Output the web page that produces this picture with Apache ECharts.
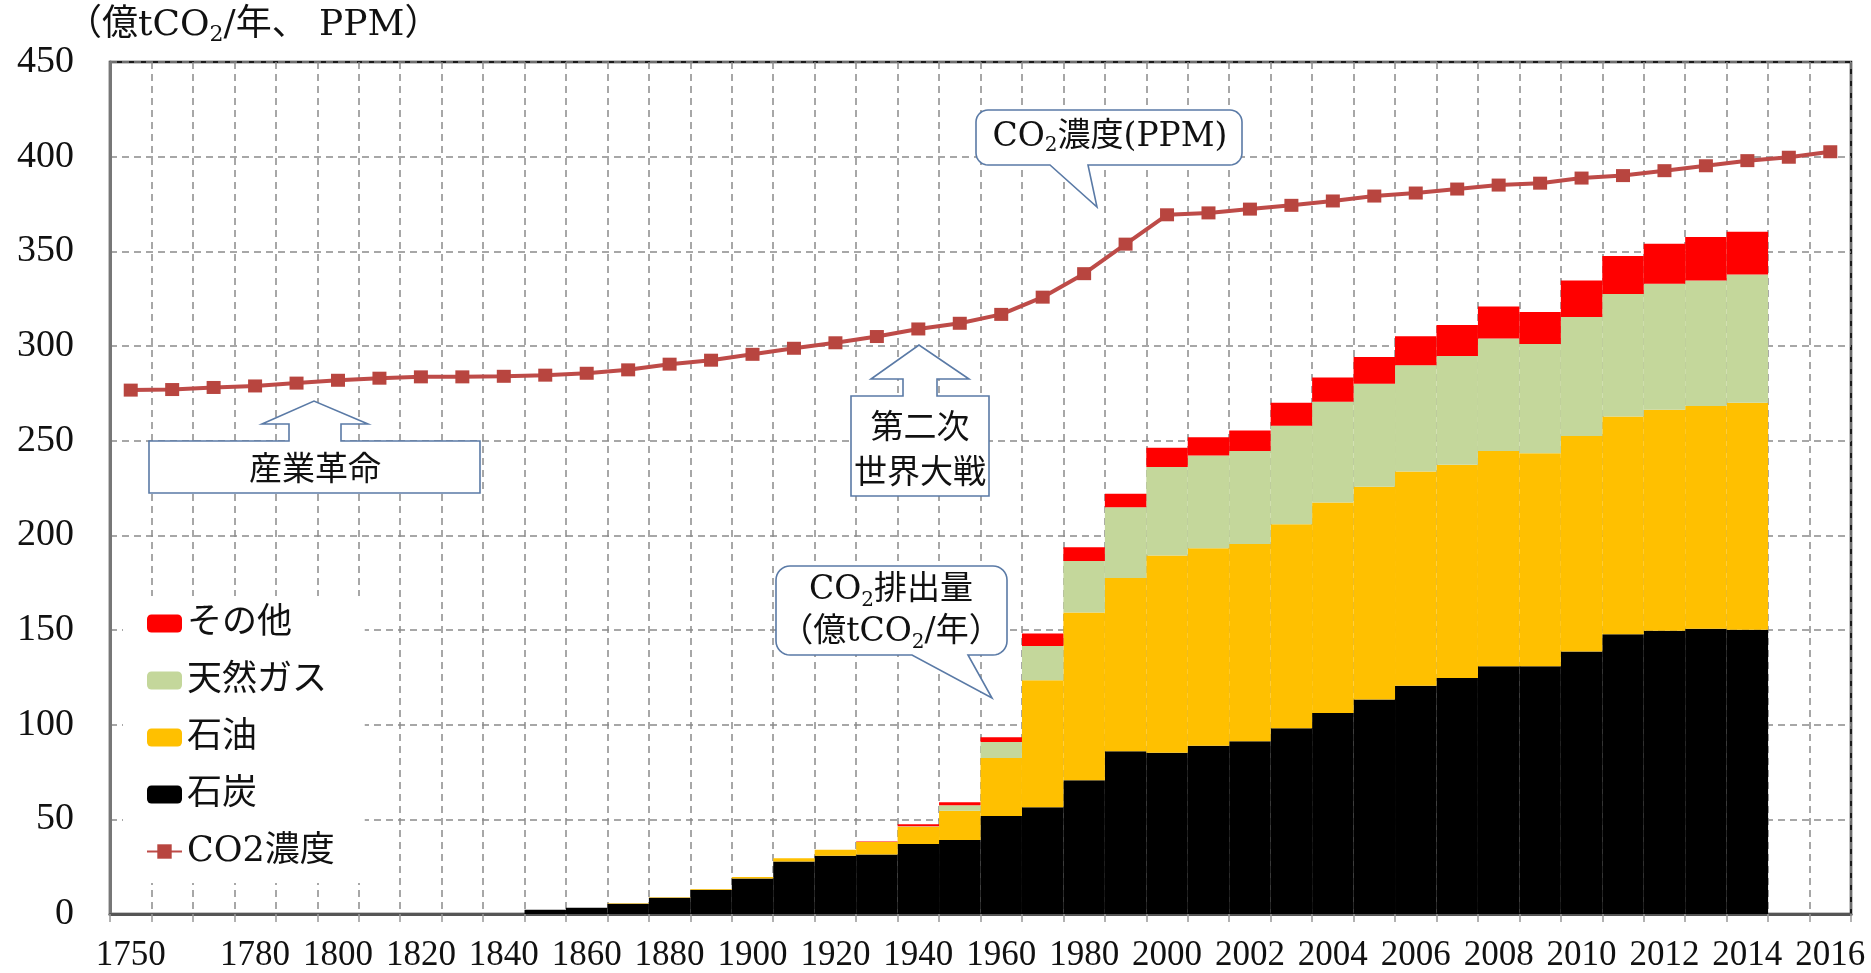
<!DOCTYPE html>
<html>
<head>
<meta charset="utf-8">
<script src="https://cdn.jsdelivr.net/npm/echarts@6/dist/echarts.min.js"></script>
<style>
  html, body { margin: 0; padding: 0; background: #fff; }
  #chart { width: 1871px; height: 973px; }
</style>
</head>
<body>
<div id="chart"></div>
<script>
// Years on the category axis (decades up to 2000, then yearly)
const years = ['1750','1760','1770','1780','1790','1800','1810','1820','1830','1840',
  '1850','1860','1870','1880','1890','1900','1910','1920','1930','1940',
  '1950','1960','1970','1980','1990','2000','2001','2002','2003','2004',
  '2005','2006','2007','2008','2009','2010','2011','2012','2013','2014',
  '2015','2016'];

// CO2 emissions by source (億tCO2/年)
const coal = [0,0,0,0,0,0,0,0,0,0,
  2.3,3.3,5.4,8.6,12.8,18.7,27.7,30.7,31.4,37.0,
  39.1,51.7,56.4,70.7,86.0,85.2,88.9,91.3,98.1,106.1,
  113.3,120.6,124.7,130.8,130.8,138.7,147.7,149.6,150.6,150.1,
  null,null];
const oil = [0,0,0,0,0,0,0,0,0,0,
  0,0,0.3,0.3,0.4,0.9,1.8,3.2,6.6,9.1,
  15.4,30.7,67.1,88.6,91.5,104.1,104.3,104.1,107.7,111.3,
  112.4,113.1,112.6,113.8,112.5,113.8,115.0,116.7,117.7,119.9,
  null,null];
const gas = [0,0,0,0,0,0,0,0,0,0,
  0,0,0,0,0,0,0,0,0,0.3,
  2.9,8.4,18.1,27.1,37.3,46.8,48.9,49.2,52.1,53.1,
  54.4,56.1,57.4,59.3,57.7,62.8,64.7,66.6,66.3,67.8,
  null,null];
const other = [0,0,0,0,0,0,0,0,0,0,
  0,0,0,0,0,0,0,0,0.3,1.0,
  1.6,2.6,6.6,7.3,7.2,10.1,9.7,10.8,12.1,12.8,
  14.1,15.3,16.4,16.9,16.9,19.3,20.1,21.1,23.0,22.5,
  null,null];

// Atmospheric CO2 concentration (PPM)
const co2ppm = [276.7,277.0,278.1,278.9,280.4,281.9,283.0,283.7,283.7,284.0,
  284.6,285.6,287.4,290.4,292.5,295.6,298.8,301.7,305.0,309.0,
  312.0,316.7,325.8,338.2,353.8,369.3,370.3,372.3,374.3,376.6,
  379.2,380.8,382.9,385.0,386.0,388.7,390.0,392.6,395.2,397.9,
  399.7,402.6];

const lineName = 'CO2濃度';

const FONT_MIX = "'DejaVu Serif', 'Noto Sans CJK JP', serif";
const FONT_JP = "'Noto Sans CJK JP', sans-serif";
const EDGE = '#5A7AA6';
const DASH = { type: [7, 5], color: '#8a8a8a', width: 1.5 };

// Rounded box with a pointed tail hanging from its bottom edge
function tailBox(x0, y0, x1, y1, r, ta, tb, px, py) {
  const pts = [];
  const arc = (cx, cy, a0, a1) => {
    for (let k = 0; k <= 8; k++) {
      const a = (a0 + (a1 - a0) * k / 8) * Math.PI / 180;
      pts.push([cx + r * Math.cos(a), cy + r * Math.sin(a)]);
    }
  };
  arc(x0 + r, y0 + r, 180, 270);
  arc(x1 - r, y0 + r, 270, 360);
  arc(x1 - r, y1 - r, 0, 90);
  pts.push([tb, y1], [px, py], [ta, y1]);
  arc(x0 + r, y1 - r, 90, 180);
  return pts;
}

// Box with an upward block arrow on its top edge
function arrowBox(x0, y0, x1, y1, s0, s1, h0, h1, hy, ax, ay) {
  return [[x0, y0], [s0, y0], [s0, hy], [h0, hy], [ax, ay], [h1, hy],
    [s1, hy], [s1, y0], [x1, y0], [x1, y1], [x0, y1]];
}

const shapeStyle = { fill: '#fff', stroke: EDGE, lineWidth: 1.6 };
const richMain = (fs, lh) => ({
  a: { fontSize: fs, fontFamily: FONT_MIX, lineHeight: lh, fill: '#111' },
  s: { fontSize: Math.round(fs * 0.6), fontFamily: FONT_MIX, lineHeight: lh - 17, verticalAlign: 'bottom', fill: '#111' }
});

const chart = echarts.init(document.getElementById('chart'), null, { renderer: 'canvas' });

const barSeries = [
  { name: '石炭', data: coal, color: '#000000' },
  { name: '石油', data: oil, color: '#FFC000' },
  { name: '天然ガス', data: gas, color: '#C4D79B' },
  { name: 'その他', data: other, color: '#FF0000' }
].map(s => ({
  name: s.name,
  type: 'bar',
  stack: 'emission',
  data: s.data,
  barCategoryGap: '0%',
  barGap: '0%',
  itemStyle: { color: s.color },
  z: 2
}));

chart.setOption({
  animation: false,
  backgroundColor: '#fff',
  grid: {
    left: 110, right: 20, top: 62, bottom: 59,
    show: true, borderColor: '#1a1a1a', borderWidth: 2.5,
    outerBoundsMode: 'none'
  },
  legend: {
    orient: 'vertical',
    left: 123, top: 596,
    data: ['その他', '天然ガス', '石油', '石炭', lineName],
    itemWidth: 35, itemHeight: 18, itemGap: 22,
    padding: [10, 30, 14, 23],
    backgroundColor: '#fff',
    textStyle: { fontSize: 35, fontFamily: FONT_MIX, color: '#111', padding: [0, 0, 0, 0] },
    selectedMode: false
  },
  xAxis: {
    type: 'category',
    data: years,
    boundaryGap: true,
    axisLine: { lineStyle: { color: '#555', width: 3 } },
    axisTick: { show: true, interval: 0, length: 8, lineStyle: { color: '#999', width: 1.5 } },
    axisLabel: {
      interval: (i) => i === 0 || (i >= 3 && i % 2 === 1),
      fontSize: 35, fontFamily: "'Liberation Serif', serif", color: '#111', margin: 24
    },
    splitLine: { show: true, interval: 0, lineStyle: DASH }
  },
  yAxis: {
    type: 'value',
    min: 0, max: 450, interval: 50,
    axisLine: { show: true, lineStyle: { color: '#777', width: 3 } },
    axisTick: { show: false },
    axisLabel: { fontSize: 38, fontFamily: "'Liberation Serif', serif", color: '#111', margin: 36 },
    splitLine: { show: true, lineStyle: DASH }
  },
  series: [
    ...barSeries,
    {
      name: lineName,
      type: 'line',
      data: co2ppm,
      symbol: 'rect',
      symbolSize: [14, 13],
      showAllSymbol: true,
      itemStyle: { color: '#B8453F' },
      lineStyle: { color: '#BE4B48', width: 4 },
      z: 5
    }
  ],
  graphic: [
    // unit caption above the value axis
    {
      type: 'text', x: 66, y: 26, z: 110,
      style: {
        text: '{a|（億tCO}{s|2}{a|/年、 PPM）}',
        rich: richMain(36, 40), align: 'left', verticalAlign: 'middle'
      }
    },
    // 産業革命
    {
      type: 'polygon', z: 100,
      shape: { points: arrowBox(149, 441, 480, 493, 289, 341, 262, 368, 424, 314, 401) },
      style: shapeStyle
    },
    {
      type: 'text', x: 315, y: 467, z: 101,
      style: { text: '産業革命', fontSize: 33, fontFamily: FONT_JP, fill: '#111', align: 'center', verticalAlign: 'middle' }
    },
    // 第二次世界大戦
    {
      type: 'polygon', z: 100,
      shape: { points: arrowBox(851, 396, 989, 496, 903, 937, 871, 969, 379, 919, 345) },
      style: shapeStyle
    },
    {
      type: 'text', x: 920, y: 448, z: 101,
      style: { text: '第二次\n世界大戦', fontSize: 33, lineHeight: 45, fontFamily: FONT_JP, fill: '#111', align: 'center', verticalAlign: 'middle' }
    },
    // CO2濃度(PPM)
    {
      type: 'polygon', z: 100,
      shape: { points: tailBox(976, 110, 1242, 165, 12, 1050, 1088, 1097, 207) },
      style: shapeStyle
    },
    {
      type: 'text', x: 1110, y: 137, z: 101,
      style: { text: '{a|CO}{s|2}{a|濃度(PPM)}', rich: richMain(33, 38), align: 'center', verticalAlign: 'middle' }
    },
    // CO2排出量
    {
      type: 'polygon', z: 100,
      shape: { points: tailBox(776, 566, 1007, 655, 14, 912, 968, 992, 698) },
      style: shapeStyle
    },
    {
      type: 'text', x: 891, y: 611, z: 101,
      style: {
        text: '{a|CO}{s|2}{a|排出量}\n{a|（億tCO}{s|2}{a|/年）}',
        rich: richMain(33, 42), align: 'center', verticalAlign: 'middle'
      }
    }
  ]
});
</script>
</body>
</html>
